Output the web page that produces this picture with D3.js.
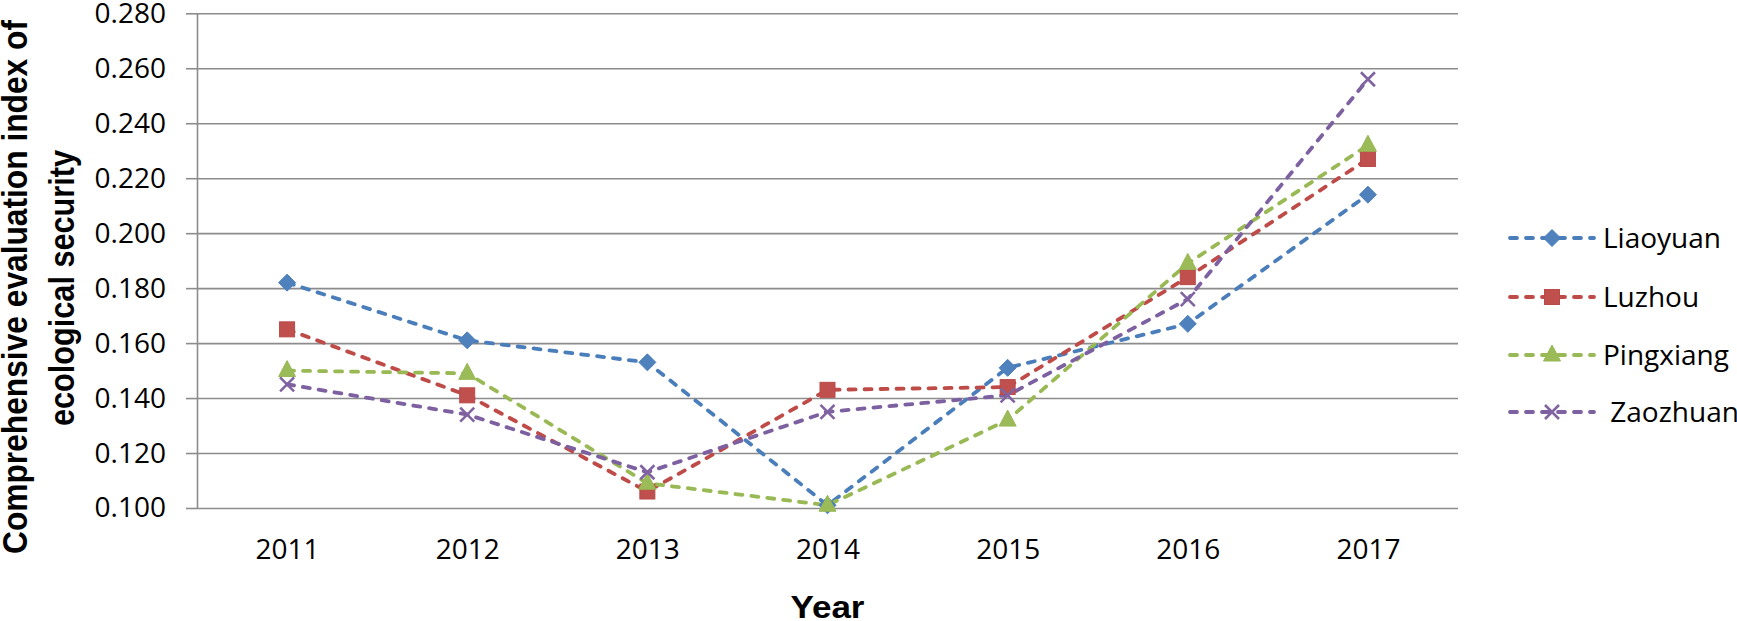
<!DOCTYPE html>
<html>
<head>
<meta charset="utf-8">
<script src="https://cdn.jsdelivr.net/npm/d3@7"></script>
<style>
  body { margin: 0; background: #fff; }
  svg { display: block; }
</style>
</head>
<body>
<svg id="chart" width="1737" height="621"></svg>
<script>
// values
const years = ["2011", "2012", "2013", "2014", "2015", "2016", "2017"];
const liaoyuan  = [0.182, 0.161, 0.153, 0.101, 0.151, 0.167, 0.214];
const luzhou    = [0.165, 0.141, 0.106, 0.143, 0.144, 0.184, 0.227];
const pingxiang = [0.150, 0.149, 0.109, 0.101, 0.132, 0.189, 0.232];
const zaozhuan  = [0.145, 0.134, 0.113, 0.135, 0.141, 0.176, 0.256];
const yTicks = [0.100, 0.120, 0.140, 0.160, 0.180, 0.200, 0.220, 0.240, 0.260, 0.280];

const series = [
    {name: "Liaoyuan",  values: liaoyuan,  line: "#4a7ebb", fill: "#4f81bd", shape: "diamond"},
    {name: "Luzhou",    values: luzhou,    line: "#be4b48", fill: "#c0504d", shape: "square"},
    {name: "Pingxiang", values: pingxiang, line: "#98b954", fill: "#9bbb59", shape: "triangle"},
    {name: " Zaozhuan", values: zaozhuan,  line: "#7d60a0", fill: "#8064a2", shape: "cross"}
];

let svg = d3.select("#chart");
let plotLeft = 197, plotRight = 1458, plotTop = 13.3, plotBottom = 508;

let x = d3.scalePoint().domain(years).range([plotLeft, plotRight]).padding(0.5);
let y = d3.scaleLinear().domain([0.1, 0.28]).range([plotBottom, plotTop]);

const tickFont = "'Open Sans', 'Liberation Sans', sans-serif";

// gridlines
svg.append("g")
    .attr("transform", `translate(${plotLeft},0)`)
    .call(d3.axisLeft(y).tickValues(yTicks).tickSize(-(plotRight - plotLeft)).tickFormat(""))
    .call(g => g.select(".domain").remove())
    .call(g => g.selectAll("line").attr("stroke", "#8c8c8c").attr("stroke-width", 1.6));

// y axis with little ticks and labels
svg.append("g")
    .attr("transform", `translate(${plotLeft},0)`)
    .call(d3.axisLeft(y).tickValues(yTicks).tickSize(11).tickSizeOuter(0).tickPadding(20).tickFormat(d3.format(".3f")))
    .call(g => g.select(".domain").attr("stroke", "#8c8c8c").attr("stroke-width", 1.6))
    .call(g => g.selectAll("line").attr("stroke", "#8c8c8c").attr("stroke-width", 1.6))
    .call(g => g.selectAll("text").attr("font-family", tickFont).attr("font-size", 28).attr("fill", "#000"));

// x axis labels
svg.append("g")
    .attr("transform", `translate(0,${plotBottom})`)
    .call(d3.axisBottom(x).tickSize(0).tickPadding(31))
    .call(g => g.select(".domain").remove())
    .call(g => g.selectAll("text").attr("font-family", tickFont).attr("font-size", 28).attr("fill", "#000"));

// axis titles
svg.append("text")
    .attr("x", (plotLeft + plotRight) / 2).attr("y", 618)
    .attr("text-anchor", "middle")
    .attr("font-family", "'Liberation Sans', Arial, sans-serif")
    .attr("font-weight", "bold").attr("font-size", 32)
    .attr("textLength", 74).attr("lengthAdjust", "spacingAndGlyphs")
    .text("Year");

let yTitle = svg.append("g")
    .attr("font-family", "'Liberation Sans', Arial, sans-serif")
    .attr("font-weight", "bold").attr("font-size", 35)
    .attr("text-anchor", "middle");
yTitle.append("text")
    .attr("transform", "translate(27,287) rotate(-90)")
    .attr("textLength", 534).attr("lengthAdjust", "spacingAndGlyphs")
    .text("Comprehensive  evaluation index of");
yTitle.append("text")
    .attr("transform", "translate(74,288) rotate(-90)")
    .attr("textLength", 276).attr("lengthAdjust", "spacingAndGlyphs")
    .text("ecological security");

function drawMarker(g, shape, fill, stroke) {
    if (shape == "diamond") {
        g.append("path").attr("d", "M0,-8.5L8.5,0L0,8.5L-8.5,0Z").attr("fill", fill).attr("stroke", stroke).attr("stroke-width", 1);
    } else if (shape == "square") {
        g.append("rect").attr("x", -7.5).attr("y", -7.5).attr("width", 15).attr("height", 15)
            .attr("fill", fill).attr("stroke", "#b84a47").attr("stroke-width", 1);
    } else if (shape == "triangle") {
        g.append("path").attr("d", "M0,-10L8.5,6L-8.5,6Z").attr("fill", fill).attr("stroke", stroke).attr("stroke-width", 1);
    } else {
        g.append("path").attr("d", "M-7,-7L7,7M-7,7L7,-7").attr("fill", "none").attr("stroke", fill).attr("stroke-width", 2.6);
    }
}

let line = d3.line().x((d, i) => x(years[i])).y(d => y(d));

series.forEach(function (s) {
    svg.append("path")
        .datum(s.values)
        .attr("d", line)
        .attr("fill", "none")
        .attr("stroke", s.line)
        .attr("stroke-width", 3.8)
        .attr("stroke-linecap", "round")
        .attr("stroke-dasharray", "7,9");
});

series.forEach(function (s) {
    s.values.forEach(function (v, i) {
        let g = svg.append("g").attr("transform", `translate(${x(years[i])},${y(v)})`);
        drawMarker(g, s.shape, s.fill, s.line);
    });
});

// legend
let legendY = [238, 297, 355, 412];
series.forEach(function (s, i) {
    let g = svg.append("g").attr("transform", `translate(0,${legendY[i]})`);
    g.append("line")
        .attr("x1", 1510).attr("x2", 1594).attr("y1", 0).attr("y2", 0)
        .attr("stroke", s.line).attr("stroke-width", 3.8)
        .attr("stroke-linecap", "round").attr("stroke-dasharray", "7,9");
    let m = g.append("g").attr("transform", "translate(1552,0)");
    drawMarker(m, s.shape, s.fill, s.line);
    g.append("text")
        .attr("x", 1603).attr("y", 0).attr("dy", "0.36em")
        .attr("font-family", tickFont).attr("font-size", 28)
        .attr("xml:space", "preserve")
        .style("white-space", "pre")
        .text(s.name);
});
</script>
</body>
</html>
